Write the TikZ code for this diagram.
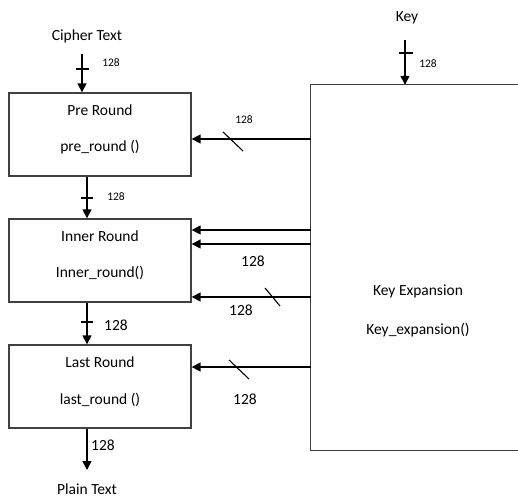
\documentclass[tikz,border=0pt]{standalone}
\usepackage{fontspec}
\setmainfont{Carlito}
\usetikzlibrary{arrows.meta}
\begin{document}
\begin{tikzpicture}[x=1pt,y=-1pt,
  box/.style={draw=black!75, line width=1.3pt, minimum width=182pt, minimum height=83pt, inner sep=0pt},
  arr/.style={draw=black, line width=1.4pt, -{Triangle[length=9pt,width=9pt]}},
  tick/.style={draw=black, line width=1.1pt},
  lbl/.style={font=\fontsize{15.5}{18}\selectfont, inner sep=0pt},
  sm/.style={font=\fontsize{11.5}{14}\selectfont, inner sep=0pt}]
\useasboundingbox (0,0) rectangle (518,497);
% round boxes
\node[box] (pre) at (100,134.5) {};
\node[box] (inner) at (100,260.5) {};
\node[box] (last) at (100,386.5) {};
\node[lbl] (preA) at (100,110) {Pre Round};
\node[lbl] (preB) at (100,147) {pre\_round ()};
\node[lbl] (inA) at (100,236) {Inner Round};
\node[lbl] (inB) at (100,273) {Inner\_round()};
\node[lbl] (laA) at (100,362) {Last Round};
\node[lbl] (laB) at (100,400) {last\_round ()};
% key expansion box (open to the right)
\node[minimum width=240pt, minimum height=365pt, inner sep=0pt] (kx) at (431,267.5) {};
\draw[draw=black!75, line width=1.3pt] (kx.north east) -- (kx.north west) -- (kx.south west) -- (kx.south east);
\node[lbl] (kxA) at (418,291) {Key Expansion};
\node[lbl] (kxB) at (418,330) {Key\_expansion()};
% inputs / outputs
\node[lbl] (ct) at (87,36) {Cipher Text};
\node[lbl] (key) at (407,18) {Key};
\node[lbl] (pt) at (87,489) {Plain Text};
\coordinate (ctS) at (82,54);
\coordinate (dn) at (87,0);
\coordinate (keyS) at (405,40);
\draw[arr] (ctS) -- (pre.north -| ctS);
\draw[tick] (76,69) -- (89,69);
\node[sm] at (111,63) {128};
\draw[arr] (keyS) -- (kx.north -| keyS);
\draw[tick] (399,53) -- (413,53);
\node[sm] at (428,64) {128};
\draw[arr] (pre.south -| dn) -- (inner.north -| dn);
\draw[tick] (81,198) -- (93,198);
\node[sm] at (116,197) {128};
\draw[arr] (inner.south -| dn) -- (last.north -| dn);
\draw[tick] (81,322) -- (93,322);
\node[lbl] at (116,325) {128};
\coordinate (ptN) at (87,470);
\draw[arr] (last.south -| dn) -- (ptN);
\node[lbl] at (103,445) {128};
% key schedule arrows
\coordinate (y1) at (0,139);
\coordinate (y2) at (0,230);
\coordinate (y3) at (0,244);
\coordinate (y4) at (0,297);
\coordinate (y5) at (0,367);
\draw[arr] (kx.west |- y1) -- (pre.east |- y1);
\draw[tick] (223,132) -- (243,151);
\node[sm] at (244,120) {128};
\draw[arr] (kx.west |- y2) -- (inner.east |- y2);
\draw[arr] (kx.west |- y3) -- (inner.east |- y3);
\node[lbl] at (253,261) {128};
\draw[arr] (kx.west |- y4) -- (inner.east |- y4);
\draw[tick] (265,288) -- (280,306);
\node[lbl] at (241,310) {128};
\draw[arr] (kx.west |- y5) -- (last.east |- y5);
\draw[tick] (229,360) -- (249,379);
\node[lbl] at (245,399) {128};
\end{tikzpicture}
\end{document}
